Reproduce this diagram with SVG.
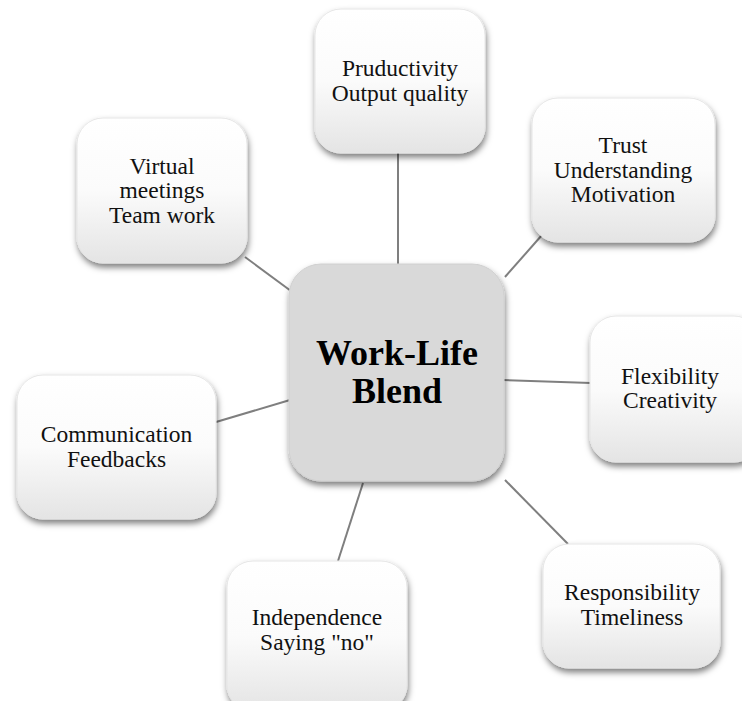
<svg xmlns="http://www.w3.org/2000/svg" width="742" height="701" viewBox="0 0 742 701">
<style>
.box{fill:url(#g);stroke:#e6e6e6;stroke-width:1;filter:url(#sh)}
.hub{fill:#d9d9d9;stroke:#d0d0d0;stroke-width:1;filter:url(#sh)}
.t{font-family:"Liberation Serif","Times New Roman",serif;font-size:23.5px;fill:#111;text-anchor:middle}
.ht{font-family:"Liberation Serif","Times New Roman",serif;font-size:36px;font-weight:bold;fill:#000;text-anchor:middle}
.c{stroke:#7f7f7f;stroke-width:2;fill:none}
</style>
<defs>
<linearGradient id="g" x1="0" y1="0" x2="0" y2="1">
<stop offset="0" stop-color="#ffffff"/>
<stop offset="0.5" stop-color="#fbfbfb"/>
<stop offset="1" stop-color="#e4e4e4"/>
</linearGradient>
<filter id="sh" x="-20%" y="-20%" width="140%" height="140%">
<feDropShadow dx="1" dy="4" stdDeviation="3" flood-color="#000" flood-opacity="0.5"/>
</filter>
</defs>
<rect width="742" height="701" fill="#fff"/>
<g id="connectors">
<line class="c" x1="398" y1="153" x2="398" y2="265"/>
<line class="c" x1="245" y1="257" x2="291" y2="291"/>
<line class="c" x1="542" y1="235" x2="505" y2="277"/>
<line class="c" x1="503" y1="380" x2="591" y2="383"/>
<line class="c" x1="505" y1="480" x2="568" y2="544"/>
<line class="c" x1="363" y1="483" x2="338" y2="561"/>
<line class="c" x1="216" y1="422" x2="290" y2="400"/>
</g>
<g id="node-productivity">
<rect class="box" x="315" y="9" width="170" height="144" rx="26"/>
<text class="t" x="400" y="76">Pruductivity</text>
<text class="t" x="400" y="101">Output quality</text>
</g>
<g id="node-virtual">
<rect class="box" x="77" y="118" width="170" height="145" rx="26"/>
<text class="t" x="162" y="174">Virtual</text>
<text class="t" x="162" y="198">meetings</text>
<text class="t" x="162" y="223">Team work</text>
</g>
<g id="node-trust">
<rect class="box" x="532" y="98" width="183" height="144" rx="26"/>
<text class="t" x="623" y="153">Trust</text>
<text class="t" x="623" y="178">Understanding</text>
<text class="t" x="623" y="202">Motivation</text>
</g>
<g id="node-flexibility">
<rect class="box" x="590" y="316" width="170" height="146" rx="26"/>
<text class="t" x="670" y="384">Flexibility</text>
<text class="t" x="670" y="408">Creativity</text>
</g>
<g id="node-communication">
<rect class="box" x="17" y="375" width="199" height="144" rx="26"/>
<text class="t" x="116.5" y="442">Communication</text>
<text class="t" x="116.5" y="467">Feedbacks</text>
</g>
<g id="node-independence">
<rect class="box" x="227" y="561" width="180" height="150" rx="26"/>
<text class="t" x="317" y="625">Independence</text>
<text class="t" x="317" y="650">Saying "no"</text>
</g>
<g id="node-responsibility">
<rect class="box" x="543" y="544" width="177" height="124" rx="26"/>
<text class="t" x="632" y="600">Responsibility</text>
<text class="t" x="632" y="625">Timeliness</text>
</g>
<g id="node-hub">
<rect class="hub" x="289" y="264" width="215" height="217" rx="32"/>
<text class="ht" x="397" y="365">Work-Life</text>
<text class="ht" x="397" y="403">Blend</text>
</g>
</svg>
